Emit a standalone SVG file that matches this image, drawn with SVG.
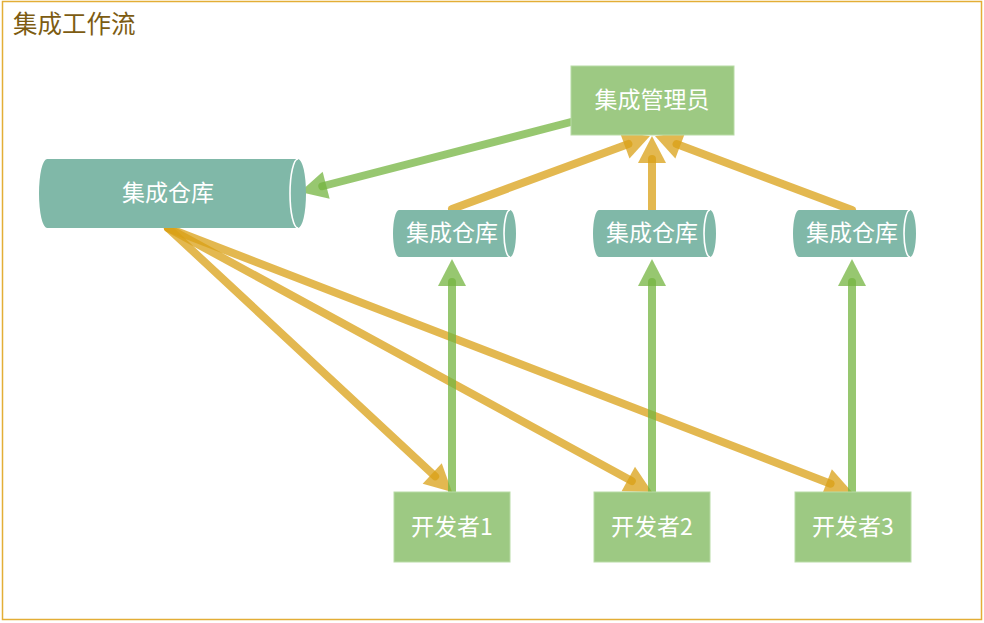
<svg xmlns="http://www.w3.org/2000/svg" width="984" height="623" viewBox="0 0 984 623">
<style>
.frame{fill:#ffffff;stroke:#e3ae36;stroke-width:1.5}
.title{font-family:"Noto Sans CJK SC",sans-serif;font-size:24.5px;fill:#7d5c12}
.box{fill:#9dc983;stroke:#b8dba5;stroke-width:1}
.cyl{fill:#80b8a8}
.rim{fill:none;stroke:#ffffff;stroke-width:1.6}
.lbl{font-family:"Noto Sans CJK SC",sans-serif;font-size:23px;fill:#ffffff;text-anchor:middle;dominant-baseline:central}
.o{fill:none;stroke:#d9a015;stroke-opacity:0.75;stroke-width:8;stroke-linecap:round;marker-end:url(#ao)}
.g{fill:none;stroke:#74b440;stroke-opacity:0.75;stroke-width:8;stroke-linecap:round;marker-end:url(#ag)}
</style>
<defs>
<marker id="ao" markerUnits="userSpaceOnUse" viewBox="-5 -15 30 30" refX="0" refY="0" markerWidth="30" markerHeight="30" orient="auto"><path d="M-4,-14 L23,0 L-4,14 Z" fill="#d9a015" fill-opacity="0.75"/></marker>
<marker id="ag" markerUnits="userSpaceOnUse" viewBox="-5 -15 30 30" refX="0" refY="0" markerWidth="30" markerHeight="30" orient="auto"><path d="M-4,-14 L23,0 L-4,14 Z" fill="#74b440" fill-opacity="0.75"/></marker>
</defs>
<rect class="frame" x="2.5" y="1.5" width="979" height="618"/>
<text class="title" x="13" y="33">集成工作流</text>
<g id="connectors">
<path class="o" d="M168,228 L435.16,476.34"/>
<path class="o" d="M168,228 L631.81,480.99"/>
<path class="o" d="M168,228 L830.54,483.72"/>
<path class="g" d="M452,492 L452,282"/>
<path class="g" d="M652,492 L652,282"/>
<path class="g" d="M852,492 L852,282"/>
<path class="o" d="M452,209 L628.42,143.96"/>
<path class="o" d="M652,210 L652,159"/>
<path class="o" d="M852,210 L676.53,144.09"/>
<path class="g" d="M571,122 L322.27,186.25"/>
</g>
<g id="repo-main">
<path class="cyl" d="M47,159 L298,159 A8,34.5 0 0 1 298,228 L47,228 A8,34.5 0 0 1 47,159 Z"/>
<path class="rim" d="M298,159 A8,34.5 0 0 0 298,228"/>
<text class="lbl" x="168" y="191">集成仓库</text>
</g>
<g id="manager">
<rect class="box" x="571" y="66" width="163" height="69"/>
<text class="lbl" x="652" y="98">集成管理员</text>
</g>
<g id="repo-1">
<path class="cyl" d="M399,210 L510,210 A6,23.5 0 0 1 510,257 L399,257 A6,23.5 0 0 1 399,210 Z"/>
<path class="rim" d="M510,210 A6,23.5 0 0 0 510,257"/>
<text class="lbl" x="452" y="231">集成仓库</text>
</g>
<g id="repo-2">
<path class="cyl" d="M599,210 L710,210 A6,23.5 0 0 1 710,257 L599,257 A6,23.5 0 0 1 599,210 Z"/>
<path class="rim" d="M710,210 A6,23.5 0 0 0 710,257"/>
<text class="lbl" x="652" y="231">集成仓库</text>
</g>
<g id="repo-3">
<path class="cyl" d="M799,210 L910,210 A6,23.5 0 0 1 910,257 L799,257 A6,23.5 0 0 1 799,210 Z"/>
<path class="rim" d="M910,210 A6,23.5 0 0 0 910,257"/>
<text class="lbl" x="852" y="231">集成仓库</text>
</g>
<g id="dev-1">
<rect class="box" x="394" y="492" width="116" height="70"/>
<text class="lbl" x="452" y="525">开发者1</text>
</g>
<g id="dev-2">
<rect class="box" x="594" y="492" width="116" height="70"/>
<text class="lbl" x="652" y="525">开发者2</text>
</g>
<g id="dev-3">
<rect class="box" x="795" y="492" width="116" height="70"/>
<text class="lbl" x="853" y="525">开发者3</text>
</g>
</svg>
